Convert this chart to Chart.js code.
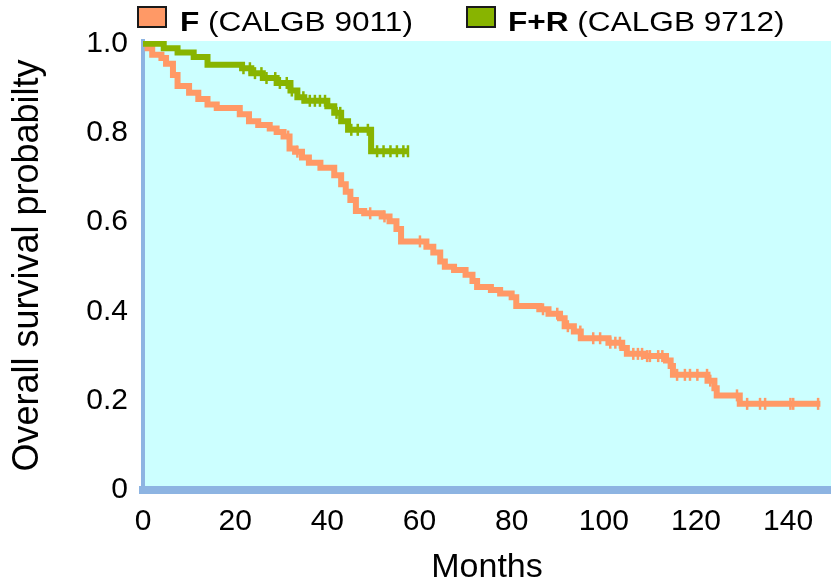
<!DOCTYPE html>
<html>
<head>
<meta charset="utf-8">
<script src="https://cdn.jsdelivr.net/npm/chart.js@4.4.0/dist/chart.umd.min.js"></script>
<style>
  body { margin: 0; background: #fff; }
  #wrap { width: 831px; height: 586px; }
</style>
</head>
<body>
<div id="wrap"><canvas id="km" width="831" height="586"></canvas></div>
<script>
// legend names (bold part + plain part)
var seriesBold = ["F", "F+R"];
var seriesRest = [" (CALGB 9011)", " (CALGB 9712)"];

// F (CALGB 9011): step times (months) and survival after each step
var fTimes = [0, 1, 2, 4, 5, 6.5, 7.5, 10, 12, 14, 16, 21, 23, 25, 27.5, 29, 30.5, 31.8, 33, 34.5,
  36, 38.5, 41.5, 43, 44, 45, 46.2, 48, 51.8, 53.5, 55, 56, 61.5, 63, 64.5, 65.5, 67.5, 70, 71.5, 72.5,
  75.5, 77.5, 80, 81, 86, 88, 90.5, 91.5, 93.5, 95, 101, 104, 105, 109, 113.5, 114.5, 115, 122.5, 124, 124.5,
  129.5, 147];
var fSurv = [1.0, 0.99, 0.975, 0.968, 0.955, 0.93, 0.905, 0.89, 0.876, 0.864, 0.856, 0.842, 0.826, 0.818, 0.81, 0.802, 0.792, 0.765, 0.758, 0.745,
  0.733, 0.722, 0.705, 0.685, 0.668, 0.65, 0.625, 0.62, 0.613, 0.602, 0.585, 0.557, 0.545, 0.532, 0.512, 0.5, 0.493, 0.482, 0.468, 0.455,
  0.448, 0.44, 0.432, 0.412, 0.405, 0.395, 0.385, 0.367, 0.355, 0.34, 0.33, 0.318, 0.305, 0.3, 0.29, 0.278, 0.258, 0.245, 0.228, 0.212,
  0.193, 0.193];
// censored times for F
var fCensor = [31.5, 33.5, 49.3, 52.4, 60.1, 86.8, 89.9, 92.2, 94.9, 97.7, 99.2, 101.4, 102.5, 103.5, 106.4, 107.4,
  108.3, 109.4, 110, 111.8, 112.7, 115.9, 117.6, 118.7, 120.3, 122.4, 123.1, 128.9, 131.1, 133.9, 135, 140.5, 141.1, 146.5];

// F+R (CALGB 9712)
var frTimes = [0, 4.5, 7.5, 11, 14, 21.5, 23.5, 26, 29, 32, 33.5, 35, 40, 41.5, 43, 44.5, 49.5, 57.5];
var frSurv = [1.0, 0.99, 0.98, 0.97, 0.953, 0.945, 0.934, 0.923, 0.912, 0.895, 0.88, 0.872, 0.86, 0.845, 0.826, 0.807, 0.759, 0.759];
var frCensor = [21.8, 23.2, 24.3, 25.7, 26.8, 28.7, 29.7, 31.2, 32.3, 34.8, 36.2, 37.3, 38.4, 39.5, 42, 42.8,
  45.2, 46.6, 48.8, 50.8, 52.2, 53.7, 55.1, 56.5, 57.5];

var xTicks = [0, 20, 40, 60, 80, 100, 120, 140];
var yTicks = [0, 0.2, 0.4, 0.6, 0.8, 1.0];
var yTickLabels = ["0", "0.2", "0.4", "0.6", "0.8", "1.0"];

var orange = "#ff9966";
var green = "#88b400";
var axisBlue = "#8db4e2";
var fontName = "'Liberation Sans', Arial, sans-serif";

function survAt(times, surv, t)
{
  var s = surv[0];
  for (var i = 0; i < times.length; i++) {
    if (times[i] <= t) s = surv[i];
  }
  return s;
}

function curve(times, surv)
{
  return times.map(function (t, i) { return { x: t, y: surv[i] }; });
}

function marks(cens, times, surv)
{
  return cens.map(function (t) { return { x: t, y: survAt(times, surv, t) }; });
}

var plotBg = {
  id: "plotBg",
  beforeDraw: function (chart) {
    var a = chart.chartArea, ctx = chart.ctx;
    ctx.save();
    ctx.fillStyle = "#ccffff";
    ctx.fillRect(a.left, a.top, a.right - a.left, a.bottom - a.top);
    ctx.restore();
  }
};

// legend with a bold series name, drawn by hand
var topLegend = {
  id: "topLegend",
  afterDraw: function (chart) {
    var ctx = chart.ctx;
    var boxX = [138, 467];
    var textX = [180, 508];
    var cols = [orange, green];
    for (var i = 0; i < 2; i++) {
      ctx.save();
      ctx.fillStyle = cols[i];
      ctx.fillRect(boxX[i], 7, 28, 20);
      ctx.lineWidth = 2;
      ctx.strokeStyle = "#1a1a1a";
      ctx.strokeRect(boxX[i], 7, 28, 20);
      ctx.translate(textX[i], 31);
      ctx.scale(1.17, 1);
      ctx.fillStyle = "#000";
      ctx.textBaseline = "alphabetic";
      ctx.font = "bold 27px " + fontName;
      ctx.fillText(seriesBold[i], 0, 0);
      var w = ctx.measureText(seriesBold[i]).width;
      ctx.font = "27px " + fontName;
      ctx.fillText(seriesRest[i], w, 0);
      ctx.restore();
    }
  }
};

new Chart(document.getElementById("km"), {
  type: "line",
  data: {
    datasets: [
      {
        label: "F+R (CALGB 9712)", data: curve(frTimes, frSurv), stepped: true,
        borderColor: green, borderWidth: 6, pointRadius: 0, fill: false, order: 1
      },
      {
        type: "scatter", label: "F+R censored", data: marks(frCensor, frTimes, frSurv),
        pointStyle: "line", rotation: 90, pointRadius: 6, borderWidth: 2.5,
        borderColor: green, backgroundColor: green, showLine: false, order: 0
      },
      {
        label: "F (CALGB 9011)", data: curve(fTimes, fSurv), stepped: true,
        borderColor: orange, borderWidth: 6, pointRadius: 0, fill: false, order: 3
      },
      {
        type: "scatter", label: "F censored", data: marks(fCensor, fTimes, fSurv),
        pointStyle: "line", rotation: 90, pointRadius: 6, borderWidth: 2.5,
        borderColor: orange, backgroundColor: orange, showLine: false, order: 2
      }
    ]
  },
  options: {
    responsive: false,
    animation: false,
    events: [],
    layout: { autoPadding: false, padding: { top: 41, right: 0, left: 0, bottom: 0 } },
    plugins: { legend: { display: false }, tooltip: { enabled: false } },
    scales: {
      x: {
        type: "linear", min: 0, max: 149.3,
        afterBuildTicks: function (s) { s.ticks = xTicks.map(function (v) { return { value: v }; }); },
        afterFit: function (s) { s.height = 96; },
        grid: { display: false, drawTicks: false },
        border: { display: true, color: axisBlue, width: 8 },
        ticks: { color: "#000", padding: 14, maxRotation: 0, autoSkip: false, font: { family: fontName, size: 30 } },
        title: { display: true, text: "Months", color: "#000", font: { family: fontName, size: 34, lineHeight: 1 }, padding: { top: 0, bottom: 1 } }
      },
      y: {
        type: "linear", min: 0, max: 1.006,
        afterBuildTicks: function (s) { s.ticks = yTicks.map(function (v) { return { value: v }; }); },
        afterFit: function (s) { s.width = 143; },
        grid: { display: false, drawTicks: false },
        border: { display: true, color: axisBlue, width: 4 },
        ticks: {
          color: "#000", padding: 15, autoSkip: false, font: { family: fontName, size: 30 },
          callback: function (v) { return yTickLabels[yTicks.indexOf(v)]; }
        },
        title: { display: true, text: "Overall survival probabilty", color: "#000", font: { family: fontName, size: 36, lineHeight: 1 }, padding: { top: 10, bottom: 0 } }
      }
    }
  },
  plugins: [plotBg, topLegend]
});
</script>
</body>
</html>
